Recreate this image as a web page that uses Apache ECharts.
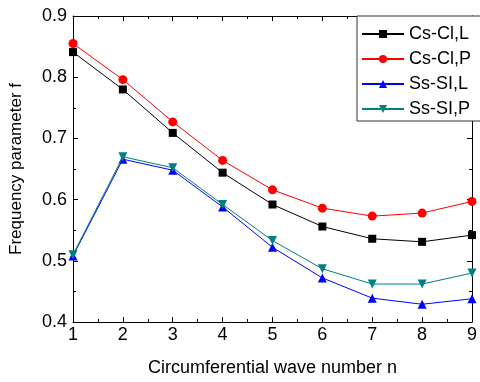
<!DOCTYPE html>
<html>
<head>
<meta charset="utf-8">
<script src="https://cdn.jsdelivr.net/npm/echarts@6/dist/echarts.min.js"></script>
<style>html,body{margin:0;padding:0;background:#fff}#c{width:480px;height:382px}</style>
</head>
<body>
<div id="c"></div>
<script>
const waveNumbers = [1, 2, 3, 4, 5, 6, 7, 8, 9];
const seriesNames = ['Cs-Cl,L', 'Cs-Cl,P', 'Ss-SI,L', 'Ss-SI,P'];
const csClL = [0.841, 0.780, 0.709, 0.644, 0.592, 0.556, 0.536, 0.531, 0.542];
const csClP = [0.855, 0.796, 0.727, 0.664, 0.616, 0.586, 0.573, 0.578, 0.597];
const ssSiL = [0.508, 0.666, 0.648, 0.588, 0.522, 0.472, 0.439, 0.429, 0.438];
const ssSiP = [0.510, 0.670, 0.652, 0.592, 0.533, 0.487, 0.462, 0.462, 0.480];
const xTitle = 'Circumferential wave number n';
const yTitle = 'Frequency parameter f';

const font = '"Liberation Sans", Arial, sans-serif';
const colors = ['#000000', '#ff0000', '#0000ff', '#008080'];
const symbols = ['rect', 'circle', 'triangle', 'triangle'];
const rot = [0, 0, 0, 180];
const sizes = [8, 9, 9, 9];
const values = [csClL, csClP, ssSiL, ssSiP];

const chart = echarts.init(document.getElementById('c'), null, {renderer: 'canvas'});
const axisLine = {show: true, onZero: false, lineStyle: {color: '#000', width: 1}};
const tick = {show: true, inside: true, length: 5, lineStyle: {color: '#000'}};
const minor = {show: true, splitNumber: 2, length: 3, lineStyle: {color: '#000'}};

chart.setOption({
  animation: false,
  backgroundColor: '#fff',
  grid: {left: 64, right: 3, top: 16, bottom: 55, containLabel: false},
  legend: {
    orient: 'vertical',
    left: 357, top: 16,
    padding: [9, 12, 3, 4],
    itemGap: 7,
    itemWidth: 42, itemHeight: 10,
    backgroundColor: '#fff',
    borderColor: '#333', borderWidth: 1,
    textStyle: {fontFamily: font, fontSize: 18, color: '#000', lineHeight: 16, padding: [0, 0, 0, 0]},
    data: seriesNames
  },
  xAxis: [{
    type: 'value', min: 1, max: 9, interval: 1,
    name: xTitle, nameLocation: 'middle', nameGap: 37,
    nameTextStyle: {fontFamily: font, fontSize: 18, color: '#000'},
    axisLine, axisTick: tick, minorTick: minor, splitLine: {show: false},
    axisLabel: {fontFamily: font, fontSize: 18, color: '#000', margin: 4}
  }, {
    type: 'value', min: 1, max: 9, interval: 1, position: 'top',
    axisLine, axisTick: tick, minorTick: minor, splitLine: {show: false},
    axisLabel: {show: false}
  }],
  yAxis: [{
    type: 'value', min: 0.4, max: 0.9, interval: 0.1,
    name: yTitle, nameLocation: 'middle', nameGap: 48,
    nameTextStyle: {fontFamily: font, fontSize: 17, color: '#000'},
    axisLine, axisTick: tick, minorTick: minor, splitLine: {show: false},
    axisLabel: {fontFamily: font, fontSize: 18, color: '#000', margin: 6,
      formatter: v => (Math.round(v * 10) / 10).toFixed(1)}
  }, {
    type: 'value', min: 0.4, max: 0.9, interval: 0.1, position: 'right',
    axisLine, axisTick: tick, minorTick: minor, splitLine: {show: false},
    axisLabel: {show: false}
  }],
  series: seriesNames.map((name, i) => ({
    name, type: 'line',
    data: waveNumbers.map((n, j) => [n, values[i][j]]),
    symbol: symbols[i], symbolSize: sizes[i], symbolRotate: rot[i],
    showAllSymbol: true,
    clip: false,
    lineStyle: {color: colors[i], width: 1},
    itemStyle: {color: colors[i], borderWidth: 0},
    z: 2 + i
  }))
});
</script>
</body>
</html>
